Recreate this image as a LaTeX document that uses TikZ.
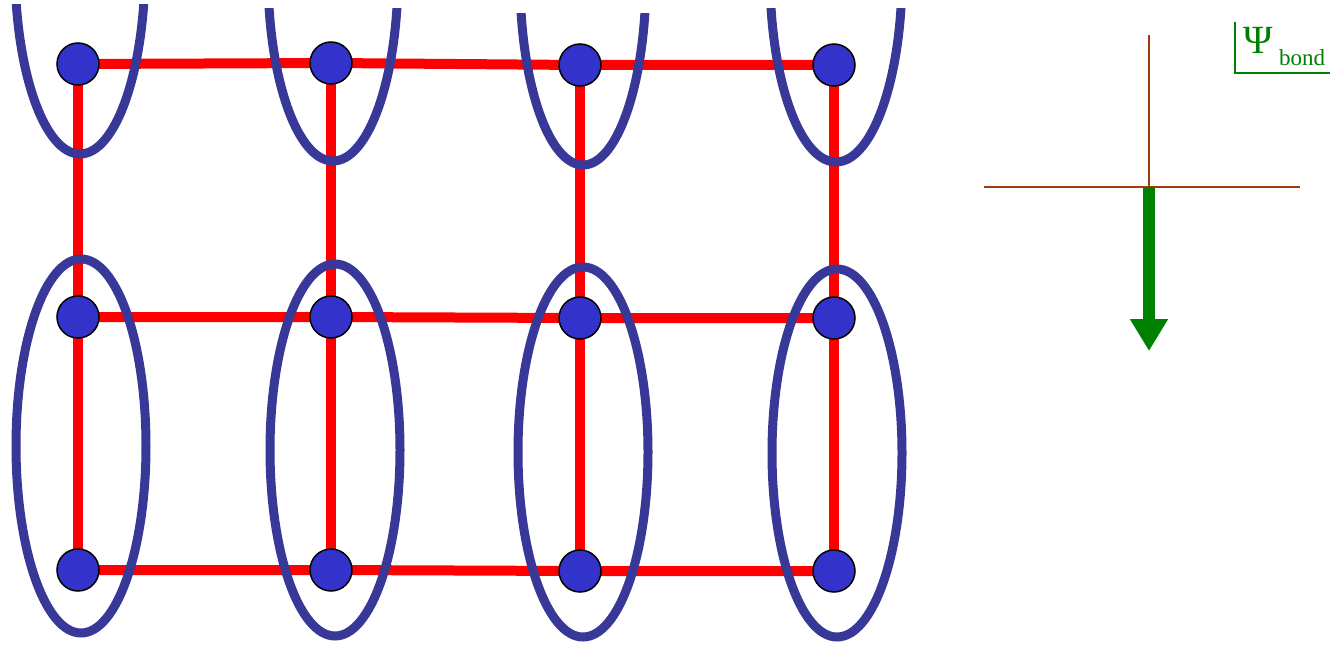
\documentclass[tikz,border=0pt]{standalone}
\usepackage{fontspec}
\setmainfont{Liberation Serif}
\usetikzlibrary{arrows.meta}
\definecolor{nodeblue}{RGB}{51,51,204}
\definecolor{ringblue}{RGB}{56,56,153}
\definecolor{bondred}{RGB}{255,0,0}
\definecolor{axisbrown}{RGB}{160,60,10}
\definecolor{psigreen}{RGB}{0,128,0}
\begin{document}
\begin{tikzpicture}[x=1pt,y=-1pt,
  site/.style={circle,draw=black,line width=1.5pt,fill=nodeblue,minimum size=42pt,inner sep=0pt},
  bondline/.style={draw=bondred,line width=10pt},
  ring/.style={draw=ringblue,line width=9pt},
  axisline/.style={draw=axisbrown,line width=1.5pt},
  spinarrow/.style={draw=psigreen,line width=12pt,-{Triangle[length=32pt,width=36pt]}},
  labeltext/.style={text=psigreen,inner sep=0pt},
  bracketline/.style={draw=psigreen,line width=1.5pt}]
\useasboundingbox (0,0) rectangle (1341,650);
% sites (coordinates first for line drawing)
\foreach \n/\x/\y in {11/78/64,12/331/63,13/580/65,14/834/65,
                      21/78/317,22/331/317,23/580/318,24/834/318,
                      31/78/570,32/331/570,33/580/571,34/834/571}
  \coordinate (c\n) at (\x,\y);
% red bonds
\draw[bondline] (c11) -- (c12) -- (c13) -- (c14);
\draw[bondline] (c21) -- (c22) -- (c23) -- (c24);
\draw[bondline] (c31) -- (c32) -- (c33) -- (c34);
\draw[bondline] (c11) -- (c31);
\draw[bondline] (c12) -- (c32);
\draw[bondline] (c13) -- (c33);
\draw[bondline] (c14) -- (c34);
% lower ellipses
\draw[ring] (81,446) ellipse [x radius=65, y radius=187];
\draw[ring] (335,450) ellipse [x radius=65, y radius=186];
\draw[ring] (583,452) ellipse [x radius=65, y radius=185];
\draw[ring] (837,453) ellipse [x radius=65, y radius=184];
% upper (cut) ellipses
\begin{scope}
  \clip (0,5) rectangle (200,200);
  \draw[ring] (80,-33) ellipse [x radius=65, y radius=187];
\end{scope}
\begin{scope}
  \clip (250,9) rectangle (450,200);
  \draw[ring] (333,-26) ellipse [x radius=65, y radius=187];
\end{scope}
\begin{scope}
  \clip (500,14) rectangle (700,200);
  \draw[ring] (583,-22) ellipse [x radius=63, y radius=187];
\end{scope}
\begin{scope}
  \clip (750,9) rectangle (950,200);
  \draw[ring] (836,-25) ellipse [x radius=66, y radius=187];
\end{scope}
% site nodes
\foreach \n in {11,12,13,14,21,22,23,24,31,32,33,34}
  \node[site] (n\n) at (c\n) {};
% axes
\coordinate (axtop) at (1149,35);
\coordinate (axorigin) at (1149,187);
\coordinate (axleft) at (984,187);
\coordinate (axright) at (1300,187);
\coordinate (arrowtip) at (1149,351);
\draw[axisline] (axtop) -- (axorigin);
\draw[axisline] (axleft) -- (axright);
\draw[spinarrow] (axorigin) -- (arrowtip);
% label
\coordinate (brtop) at (1235,22);
\coordinate (brcorner) at (1235,73);
\coordinate (brright) at (1330,73);
\draw[bracketline] (brtop) -- (brcorner) -- (brright);
\node[labeltext,font=\fontsize{40}{42}\selectfont] (psi) at (1258,40) {Ψ};
\node[labeltext,font=\fontsize{23}{25}\selectfont] (bond) at (1302,58) {bond};
\end{tikzpicture}
\end{document}
